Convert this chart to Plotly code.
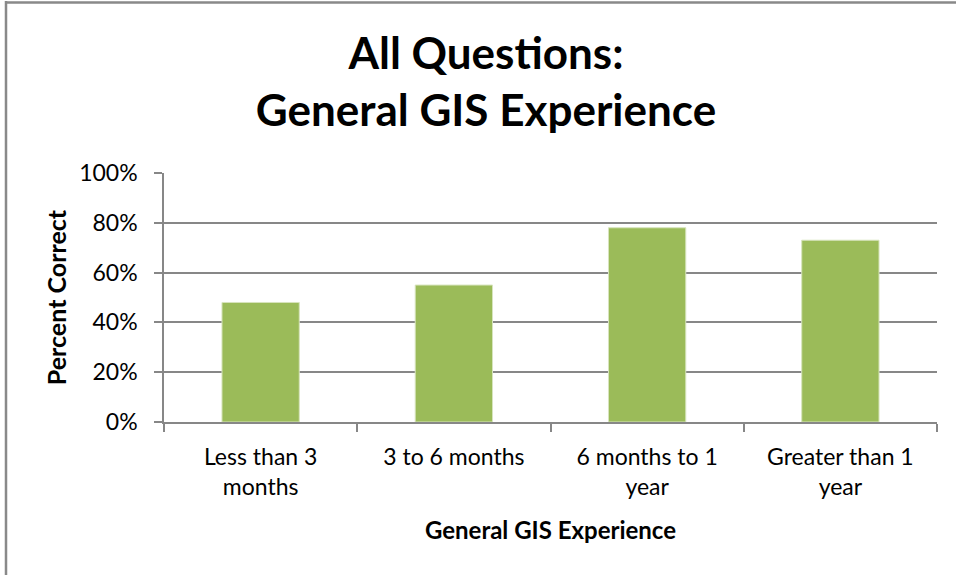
import plotly.graph_objects as go

categories = ["Less than 3<br>months", "3 to 6 months", "6 months to 1<br>year", "Greater than 1<br>year"]
percent_correct = [0.48, 0.55, 0.78, 0.73]
y_ticks = [0, 0.2, 0.4, 0.6, 0.8, 1.0]

L, R, T, B = 164, 19, 173, 153
W, H = 956, 575
pw = W - L - R
ph = H - T - B

fig = go.Figure()
fig.add_trace(go.Bar(
    x=categories, y=percent_correct,
    marker=dict(color="#9BBB59", line=dict(color="#D7E4BD", width=1)),
    hoverinfo="skip",
))

grid = "#878787"
fig.update_layout(
    width=W, height=H,
    margin=dict(l=L, r=R, t=T, b=B),
    paper_bgcolor="white", plot_bgcolor="white",
    bargap=0.6,
    showlegend=False,
    font=dict(family="Lato, Carlito, 'Open Sans', sans-serif", color="black", size=23),
    title=dict(
        text="<b>All Questions:</b><br><b>General GIS Experience</b>",
        x=486 / W, xanchor="center", xref="container",
        y=1 - 69 / H, yanchor="middle", yref="container",
        font=dict(size=44, color="black"),
    ),
    xaxis=dict(
        showline=True, linecolor=grid, linewidth=1.5,
        ticks="outside", ticklen=8, tickcolor=grid, tickwidth=1.5,
        tickson="boundaries",
        ticklabelstandoff=14,
        tickfont=dict(size=23),
        title=dict(text="<b>General GIS Experience</b>", font=dict(size=24), standoff=23),
        showgrid=False,
    ),
    yaxis=dict(
        range=[0, 1], tickvals=y_ticks, tickformat=".0%",
        showline=True, linecolor=grid, linewidth=1.5,
        ticks="outside", ticklen=8, tickcolor=grid, tickwidth=1.5,
        ticklabelstandoff=12,
        showgrid=True, gridcolor=grid, gridwidth=1.5,
        zeroline=False,
        tickfont=dict(size=23),
        title=dict(text="<b>Percent Correct</b>", font=dict(size=25), standoff=5),
    ),
    shapes=[
        dict(type="line", xref="paper", yref="paper",
             x0=(6 - L) / pw, x1=(6 - L) / pw, y0=1 + (T - 1) / ph, y1=-(B + 5) / ph,
             line=dict(color="#898989", width=2.5)),
        dict(type="line", xref="paper", yref="paper",
             x0=(5 - L) / pw, x1=(W + 5 - L) / pw, y0=1 + (T - 2.5) / ph, y1=1 + (T - 2.5) / ph,
             line=dict(color="#898989", width=2.5)),
    ],
)

fig.write_html("out.html", config={"displayModeBar": False},
               post_script="document.body.style.margin='0px';document.body.style.overflow='hidden';")
